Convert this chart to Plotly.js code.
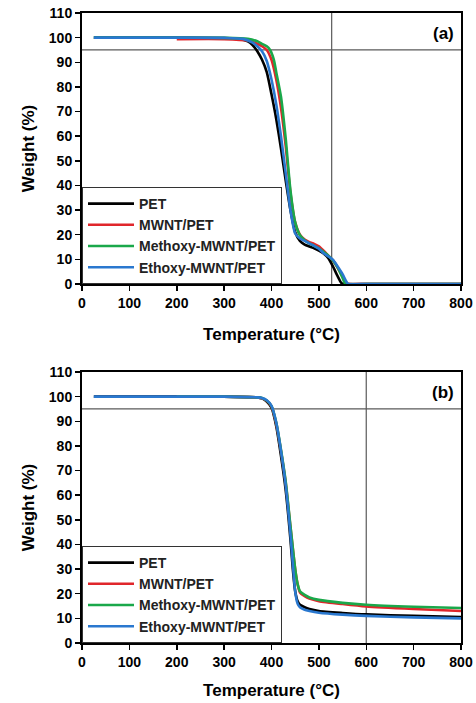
<!DOCTYPE html>
<html>
<head>
<meta charset="utf-8">
<script src="https://cdn.plot.ly/plotly-3.0.1.min.js"></script>
<style>html,body{margin:0;padding:0;background:#fff;}#chart{width:476px;height:703px;}</style>
</head>
<body>
<div id="chart"></div>
<script>
// ---------- Data ----------
var seriesNames = ["PET", "MWNT/PET", "Methoxy-MWNT/PET", "Ethoxy-MWNT/PET"];
var seriesColors = ["#000000", "#e0262b", "#1aa84a", "#2a78cf"];

// Panel (a)
var a_PET_T = [25, 100, 200, 300, 330, 350, 360, 370, 380, 390, 400, 410, 420, 430, 440, 450, 460, 470, 480, 490, 500, 510, 520, 530, 540, 548, 560, 600, 700, 800];
var a_PET_W = [100, 100, 100, 99.8, 99.5, 98.5, 97, 94.5, 91, 86, 77, 67, 55, 42, 30, 21, 17.5, 16, 15.2, 14.5, 13.6, 12.4, 10.5, 7, 3, 0.3, 0, 0, 0, 0];

var a_MWNT_T = [200, 300, 350, 370, 380, 390, 400, 410, 420, 430, 440, 450, 460, 470, 480, 490, 500, 510, 520, 530, 540, 550, 558, 562, 600, 700, 800];
var a_MWNT_W = [99.4, 99.4, 98.8, 97.5, 96.5, 95, 91, 83, 71.5, 56, 37, 25, 20, 18, 17, 16.3, 15.3, 13.5, 11.5, 9.5, 6.5, 3, 0.5, 0, 0, 0, 0];

var a_MeO_T = [25, 100, 200, 300, 350, 370, 380, 390, 397, 405, 410, 420, 430, 440, 450, 460, 470, 480, 490, 500, 510, 520, 530, 540, 550, 556, 600, 700, 800];
var a_MeO_W = [100, 100, 100, 99.9, 99.5, 98.5, 97.5, 96.5, 95, 91, 86, 76, 59, 38, 25, 19.8, 17.8, 16.5, 15.5, 14.5, 13, 11.5, 9.5, 6.5, 2.5, 0, 0, 0, 0];

var a_EtO_T = [25, 100, 200, 300, 340, 360, 370, 380, 390, 400, 410, 420, 430, 440, 450, 460, 470, 480, 490, 500, 510, 520, 530, 540, 550, 558, 562, 600, 700, 800];
var a_EtO_W = [100, 100, 100, 99.9, 99.5, 98, 96.5, 94.5, 90.5, 83, 73, 60, 45, 30, 20.5, 18.5, 17.5, 16.5, 15.5, 14.3, 12.5, 11.2, 9.8, 7, 4, 1, 0, 0, 0, 0];

// Panel (b)
var b_PET_T = [25, 100, 200, 300, 370, 380, 390, 400, 410, 420, 430, 440, 445, 450, 455, 460, 470, 480, 500, 550, 600, 700, 800];
var b_PET_W = [100, 100, 100, 100, 99.7, 99.3, 98, 95.5, 88, 76, 62, 42, 30, 21, 17, 15.5, 14.5, 13.8, 13, 12.2, 11.6, 11, 10.5];

var b_MWNT_T = [200, 300, 370, 380, 390, 400, 410, 420, 430, 440, 450, 455, 460, 470, 480, 500, 550, 600, 700, 800];
var b_MWNT_W = [100, 100, 99.7, 99.3, 98.3, 96, 89, 78, 65, 47, 30, 24, 20.5, 19, 18, 17, 15.8, 14.8, 13.8, 13];

var b_MeO_T = [200, 300, 370, 380, 390, 400, 410, 420, 430, 440, 450, 455, 460, 470, 480, 500, 550, 600, 700, 800];
var b_MeO_W = [100, 100, 99.7, 99.4, 98.4, 96.2, 89.5, 78.5, 65.5, 47.5, 30, 24, 21, 19.5, 18.5, 17.5, 16.3, 15.5, 14.7, 14.2];

var b_EtO_T = [25, 100, 200, 300, 370, 380, 390, 400, 410, 420, 430, 440, 445, 450, 455, 460, 470, 480, 500, 550, 600, 700, 800];
var b_EtO_W = [100, 100, 100, 100, 99.7, 99.4, 98.5, 96.3, 89.5, 78, 64, 44, 32, 21, 16, 14.5, 13.5, 13, 12.3, 11.5, 11, 10.4, 10];

// Reference lines
var refWeight = [95, 95];
var refTemp = [527, 600];
var panelLabels = ["(a)", "(b)"];
var xTicks = [0, 100, 200, 300, 400, 500, 600, 700, 800];
var yTicks = [0, 10, 20, 30, 40, 50, 60, 70, 80, 90, 100, 110];

// ---------- Traces ----------
var FONT = "Liberation Sans, Arial, Helvetica, sans-serif";
var panels = [
  {T: [a_PET_T, a_MWNT_T, a_MeO_T, a_EtO_T], W: [a_PET_W, a_MWNT_W, a_MeO_W, a_EtO_W], xa: "x", ya: "y", leg: "legend"},
  {T: [b_PET_T, b_MWNT_T, b_MeO_T, b_EtO_T], W: [b_PET_W, b_MWNT_W, b_MeO_W, b_EtO_W], xa: "x2", ya: "y2", leg: "legend2"}
];
var traces = [];
panels.forEach(function(p) {
  for (var i = 0; i < 4; i++) {
    traces.push({
      x: p.T[i], y: p.W[i], type: "scatter", mode: "lines",
      name: seriesNames[i], xaxis: p.xa, yaxis: p.ya, legend: p.leg,
      line: {color: seriesColors[i], width: 2.6, shape: "spline", smoothing: 0.6},
      hoverinfo: "skip"
    });
  }
});

function xAxis(domAnchor, standoff) {
  return {
    anchor: domAnchor, range: [0, 800], tickvals: xTicks, ticks: "outside", ticklen: 5, tickwidth: 1.5,
    tickcolor: "#000", showline: true, linecolor: "#000", linewidth: 2, mirror: true,
    showgrid: false, zeroline: false,
    tickfont: {family: FONT, size: 14, color: "#000", weight: "bold"},
    title: {text: "Temperature (°C)", font: {family: FONT, size: 17, color: "#000", weight: "bold"}, standoff: standoff}
  };
}
function yAxis(domain, anchor) {
  return {
    domain: domain, anchor: anchor, range: [0, 110], tickvals: yTicks, ticks: "outside", ticklen: 5, tickwidth: 1.5,
    tickcolor: "#000", showline: true, linecolor: "#000", linewidth: 2, mirror: true,
    showgrid: false, zeroline: false,
    tickfont: {family: FONT, size: 14, color: "#000", weight: "bold"},
    title: {text: "Weight (%)", font: {family: FONT, size: 17, color: "#000", weight: "bold"}, standoff: 10}
  };
}

var topBottom = (643 - 284) / 630;
var botTop = (643 - 372) / 630;

var shapes = [];
var axPairs = [["x", "y"], ["x2", "y2"]];
axPairs.forEach(function(ax, k) {
  shapes.push({type: "line", xref: ax[0] + " domain", yref: ax[1], x0: 0, x1: 1, y0: refWeight[k], y1: refWeight[k], line: {color: "#5a5a5a", width: 1.2}, layer: "below"});
  shapes.push({type: "line", xref: ax[0], yref: ax[1] + " domain", x0: refTemp[k], x1: refTemp[k], y0: 0, y1: 1, line: {color: "#5a5a5a", width: 1.2}, layer: "below"});
});

var annotations = axPairs.map(function(ax, k) {
  return {text: panelLabels[k], xref: ax[0] + " domain", yref: ax[1] + " domain", x: 1, y: 1,
    xanchor: "right", yanchor: "middle", xshift: -5, yshift: -20, showarrow: false,
    font: {family: FONT, size: 17, color: "#000", weight: "bold"}};
});

function legendCfg(y) {
  return {x: 0, y: y, xanchor: "left", yanchor: "bottom", bgcolor: "#fff", bordercolor: "#333", borderwidth: 1,
    font: {family: FONT, size: 14, color: "#222", weight: "bold"}, itemwidth: 46, tracegroupgap: 0};
}

var layout = {
  width: 476, height: 703,
  margin: {l: 82, r: 15, t: 13, b: 60},
  paper_bgcolor: "#fff", plot_bgcolor: "#fff",
  showlegend: true,
  xaxis: xAxis("y", 18),
  yaxis: yAxis([topBottom, 1], "x"),
  xaxis2: xAxis("y2", 15),
  yaxis2: yAxis([0, botTop], "x2"),
  legend: legendCfg(topBottom),
  legend2: legendCfg(0),
  shapes: shapes,
  annotations: annotations
};

Plotly.newPlot("chart", traces, layout, {staticPlot: true, displayModeBar: false});
</script>
</body>
</html>
